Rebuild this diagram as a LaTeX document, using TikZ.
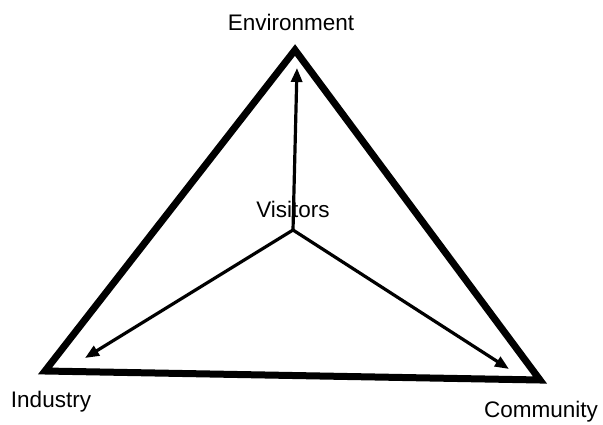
\documentclass[tikz,border=0pt]{standalone}
\usepackage{fontspec}
\setmainfont{Liberation Sans}
\usetikzlibrary{arrows.meta}
\begin{document}
\begin{tikzpicture}[x=1pt,y=-1pt,
  lbl/.style={font=\fontsize{22.5}{26}\selectfont, inner sep=0pt},
  tri/.style={line width=7pt, line join=miter},
  arr/.style={line width=3.2pt, -{Triangle[length=14pt,width=11pt]}}]
\useasboundingbox (0,0) rectangle (603,425);
\coordinate (T) at (295,50);
\coordinate (L) at (45,371);
\coordinate (R) at (540,380);
\coordinate (C) at (293,230);
\coordinate (tE) at (297,68);
\coordinate (tI) at (85,358);
\coordinate (tC) at (509,369);
\draw[tri] (T) -- (L) -- (R) -- cycle;
\draw[arr] (C) -- (tE);
\draw[arr] (C) -- (tI);
\draw[arr] (C) -- (tC);
\node[lbl] (env) at (291,22) {Environment};
\node[lbl] (vis) at (293,209) {Visitors};
\node[lbl] (ind) at (51,402) {Industry};
\node[lbl] (com) at (541,412) {Community};
\end{tikzpicture}
\end{document}
